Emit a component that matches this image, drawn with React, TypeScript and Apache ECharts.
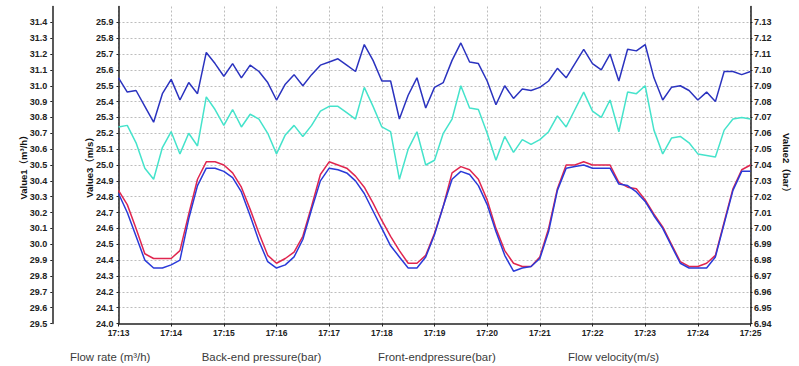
import React, { useEffect, useRef } from "react";
import * as echarts from "echarts";

// time categories every 10 s from 17:13 to 17:25
const times: string[] = [];
for (let m = 13; m <= 25; m++) {
  for (let s = 0; s < 60; s += 10) {
    if (m === 25 && s > 0) break;
    times.push(`17:${m}:${String(s).padStart(2, "0")}`);
  }
}

const legendNames = [
  "Flow rate (m³/h)",
  "Back-end pressure(bar)",
  "Front-endpressure(bar)",
  "Flow velocity(m/s)",
];
const legendX = [70, 201.7, 378, 568];

// Value1 (m³/h)
const flowRate = [
  31.05, 30.96, 30.97, 30.87, 30.77, 30.95, 31.04, 30.91, 31.02, 30.95,
  31.21, 31.14, 31.06, 31.14, 31.05, 31.13, 31.09, 31.02, 30.91, 31.01,
  31.07, 31.0, 31.07, 31.13, 31.15, 31.17, 31.13, 31.09, 31.26, 31.16,
  31.03, 31.03, 30.79, 30.94, 31.05, 30.86, 30.99, 31.02, 31.16, 31.27,
  31.15, 31.14, 31.03, 30.88, 31.0, 30.92, 30.98, 30.97, 30.99, 31.03,
  31.11, 31.05, 31.14, 31.23, 31.14, 31.1, 31.2, 31.03, 31.23, 31.22,
  31.26, 31.05, 30.91, 30.99, 31.0, 30.97, 30.91, 30.96, 30.9, 31.09,
  31.09, 31.07, 31.09,
];

// Value2 (bar)
const backEndPressure = [
  7.024, 7.015, 7.0, 6.984, 6.981, 6.981, 6.981, 6.986, 7.009, 7.031,
  7.042, 7.042, 7.04, 7.035, 7.026, 7.012, 6.997, 6.983, 6.978, 6.981,
  6.985, 6.995, 7.014, 7.034, 7.042, 7.04, 7.038, 7.033, 7.026, 7.016,
  7.005, 6.995, 6.986, 6.978, 6.978, 6.983, 6.997, 7.014, 7.035, 7.039,
  7.037, 7.031, 7.018, 7.0, 6.986, 6.978, 6.976, 6.976, 6.982, 7.0,
  7.025, 7.04, 7.04, 7.042, 7.04, 7.04, 7.04, 7.029, 7.026, 7.025,
  7.018, 7.009, 7.001, 6.99, 6.979, 6.976, 6.976, 6.978, 6.983, 7.004,
  7.025, 7.037, 7.04,
];

const frontEndPressure = [
  7.022, 7.01, 6.995, 6.98, 6.975, 6.975, 6.977, 6.98, 7.006, 7.027,
  7.038, 7.038, 7.036, 7.032, 7.023, 7.008, 6.992, 6.979, 6.975, 6.977,
  6.982, 6.993, 7.012, 7.03, 7.038, 7.037, 7.035, 7.03, 7.022, 7.011,
  7.0, 6.989, 6.982, 6.975, 6.975, 6.982, 6.996, 7.014, 7.031, 7.036,
  7.034, 7.027, 7.015, 6.998, 6.983, 6.973, 6.975, 6.976, 6.981, 6.998,
  7.024, 7.038, 7.039, 7.04, 7.038, 7.038, 7.038, 7.028, 7.027, 7.023,
  7.017, 7.008, 7.0, 6.989, 6.978, 6.975, 6.975, 6.975, 6.982, 7.003,
  7.024, 7.036, 7.036,
];

// Value3 (m/s)
const flowVelocity = [
  25.24, 25.25, 25.14, 24.98, 24.91, 25.11, 25.21, 25.07, 25.2, 25.12,
  25.43, 25.35, 25.25, 25.35, 25.24, 25.32, 25.29, 25.2, 25.07, 25.19,
  25.25, 25.18, 25.25, 25.34, 25.37, 25.37, 25.33, 25.29, 25.49, 25.37,
  25.24, 25.21, 24.91, 25.1, 25.21, 25.0, 25.03, 25.2, 25.29, 25.5,
  25.36, 25.35, 25.2, 25.03, 25.18, 25.08, 25.16, 25.13, 25.16, 25.21,
  25.31, 25.24, 25.35, 25.46, 25.34, 25.3, 25.41, 25.21, 25.46, 25.45,
  25.5, 25.22, 25.07, 25.17, 25.18, 25.14, 25.07, 25.06, 25.05, 25.22,
  25.29, 25.3, 25.29,
];

const FONT = "'Liberation Sans Narrow', 'Liberation Sans', Arial, sans-serif";
const NAME_FONT = "'Liberation Sans', Arial, 'Noto Sans CJK SC', sans-serif";

export default function App() {
  const ref = useRef<HTMLDivElement>(null);
  useEffect(() => {
    if (!ref.current) return;
    const chart = echarts.init(ref.current, null, { renderer: "svg" });

    const axisLine = { show: true, lineStyle: { color: "#222", width: 1.5 } };
    const axisTick = { show: true, length: 2, lineStyle: { color: "#222" } };
    const labelBase = {
      fontFamily: FONT,
      fontWeight: "bold" as const,
      fontSize: 9,
      color: "#222",
      showMaxLabel: false,
      padding: [0, 0, 7, 0],
    };
    const nameStyle = {
      fontFamily: NAME_FONT,
      fontWeight: "bold" as const,
      fontSize: 9.5,
      color: "#111",
    };

    chart.setOption({
      animation: false,
      backgroundColor: "#ffffff",
      grid: { left: 118.5, right: 33.3, top: 6.5, bottom: 42.5, containLabel: false },
      xAxis: {
        type: "category",
        data: times,
        boundaryGap: false,
        axisLine: { show: true, lineStyle: { color: "#222", width: 1.5 } },
        axisTick: { show: true, interval: 5, length: 3, lineStyle: { color: "#222" } },
        axisLabel: {
          interval: 5,
          margin: 5,
          fontFamily: FONT,
          fontWeight: "bold",
          fontSize: 8.5,
          color: "#222",
          formatter: (v: string) => v.slice(0, 5),
        },
        splitLine: {
          show: true,
          interval: 5,
          lineStyle: { color: "#bdbdbd", type: [2, 2], width: 1 },
        },
      },
      yAxis: [
        {
          type: "value",
          name: "Value1（m³/h）",
          nameLocation: "middle",
          nameGap: 24,
          nameMoveOverlap: false,
          nameTextStyle: nameStyle,
          position: "left",
          offset: 66.2,
          min: 29.5,
          max: 31.5,
          interval: 0.1,
          axisLine,
          axisTick,
          axisLabel: { ...labelBase, margin: 5, formatter: (v: number) => v.toFixed(1) },
          splitLine: { show: false },
        },
        {
          type: "value",
          name: "Value3（m/s）",
          nameLocation: "middle",
          nameGap: 24,
          nameMoveOverlap: false,
          nameTextStyle: nameStyle,
          position: "left",
          offset: 0,
          min: 24.0,
          max: 26.0,
          interval: 0.1,
          axisLine,
          axisTick,
          axisLabel: { ...labelBase, margin: 5, formatter: (v: number) => v.toFixed(1) },
          splitLine: {
            show: true,
            showMinLine: false,
            showMaxLine: false,
            lineStyle: { color: "#bdbdbd", type: [2, 2], width: 1 },
          },
        },
        {
          type: "value",
          name: "Value2（bar）",
          nameLocation: "middle",
          nameGap: 31,
          nameMoveOverlap: false,
          nameRotate: -90,
          nameTextStyle: nameStyle,
          position: "right",
          min: 6.94,
          max: 7.14,
          interval: 0.01,
          axisLine,
          axisTick,
          axisLabel: { ...labelBase, margin: 3.5, formatter: (v: number) => v.toFixed(2) },
          splitLine: { show: false },
        },
      ],
      series: [
        {
          name: legendNames[0],
          type: "line",
          yAxisIndex: 0,
          data: flowRate,
          symbol: "none",
          lineStyle: { color: "#2b33bf", width: 1.5 },
        },
        {
          name: legendNames[1],
          type: "line",
          yAxisIndex: 2,
          data: backEndPressure,
          symbol: "none",
          lineStyle: { color: "#e0264f", width: 1.5 },
        },
        {
          name: legendNames[2],
          type: "line",
          yAxisIndex: 2,
          data: frontEndPressure,
          symbol: "none",
          lineStyle: { color: "#2a3ad8", width: 1.5 },
        },
        {
          name: legendNames[3],
          type: "line",
          yAxisIndex: 1,
          data: flowVelocity,
          symbol: "none",
          lineStyle: { color: "#45e3cb", width: 1.5 },
        },
      ],
      graphic: legendNames.map((n, i) => ({
        type: "text",
        left: legendX[i],
        top: 351,
        style: {
          text: n,
          fontFamily: "'Liberation Sans', Arial, sans-serif",
          fontSize: 11.4,
          fill: "#3a3a3a",
        },
      })),
    });
    return () => chart.dispose();
  }, []);
  return (
    <div
      ref={ref}
      style={{ position: "absolute", left: 0, top: 0, width: 799, height: 366 }}
    />
  );
}
